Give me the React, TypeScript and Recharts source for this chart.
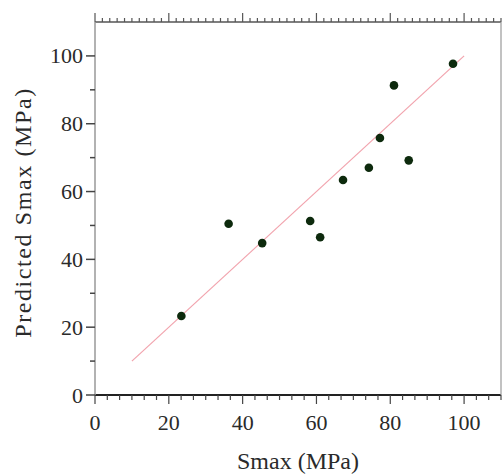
import React from "react";
import { ScatterChart, Scatter, XAxis, YAxis } from "recharts";

// measured vs predicted Smax, MPa
const smaxMeasured = [23.4, 36.2, 45.3, 58.3, 61.0, 67.2, 74.2, 77.2, 81.0, 85.0, 97.0];
const smaxPredicted = [23.3, 50.5, 44.8, 51.3, 46.5, 63.4, 67.0, 75.8, 91.3, 69.2, 97.7];

// y = x reference line
const fitX = [10, 100];
const fitY = [10, 100];

const yMajorTicks = [0, 20, 40, 60, 80, 100];
const yMinorTicks = [10, 30, 50, 70, 90];

const isMajor = (v: number) => Math.abs(v / 20 - Math.round(v / 20)) < 1e-6;
const bottomTicks = Array.from({ length: 34 }, (_, i) => (i * 10) / 3).filter((v) => v <= 110);
const topTicks = Array.from({ length: 56 }, (_, i) => i * 2);

const points = smaxMeasured.map((x, i) => ({ x, y: smaxPredicted[i] }));
const fitLine = fitX.map((x, i) => ({ x, y: fitY[i] }));

const FONT = "'Liberation Serif', 'DejaVu Serif', serif";

function BottomTick(props: any) {
  const { x, y, payload } = props;
  const major = isMajor(payload.value);
  return (
    <g>
      <line x1={x} x2={x} y1={y} y2={y + (major ? 9 : 5)} stroke="#444" strokeWidth={1.2} />
      {major && (
        <text x={x} y={y + 35} textAnchor="middle" fontSize={22} fontFamily={FONT} fill="#2a2a2a">
          {Math.round(payload.value)}
        </text>
      )}
    </g>
  );
}

function TopTick(props: any) {
  const { x, y, payload } = props;
  const major = isMajor(payload.value);
  return <line x1={x} x2={x} y1={y} y2={y - (major ? 9 : 4)} stroke="#555" strokeWidth={1.2} />;
}

function LeftTick(props: any) {
  const { x, y, payload } = props;
  const major = yMajorTicks.includes(payload.value);
  return (
    <g>
      <line x1={x} x2={x - (major ? 9 : 5)} y1={y} y2={y} stroke="#444" strokeWidth={1.5} />
      {major && (
        <text x={x - 12} y={y + 7.5} textAnchor="end" fontSize={22} fontFamily={FONT} fill="#2a2a2a">
          {payload.value}
        </text>
      )}
    </g>
  );
}

const Dot = (props: any) => <circle cx={props.cx} cy={props.cy} r={4.3} fill="#0d2a0d" />;
const NoDot = () => <g />;

export default function App() {
  return (
    <div style={{ position: "absolute", left: 0, top: 0, width: 503, height: 475, background: "#fff" }}>
      <ScatterChart width={503} height={475} margin={{ top: 21, right: 1, bottom: 0, left: 0 }}>
        <XAxis
          xAxisId="top"
          orientation="top"
          type="number"
          dataKey="x"
          domain={[0, 110]}
          allowDataOverflow
          height={1}
          ticks={topTicks}
          interval={0}
          tickSize={0}
          tickMargin={0}
          tickLine={false}
          tick={<TopTick />}
          axisLine={{ stroke: "#555", strokeWidth: 1.5 }}
        />
        <XAxis
          type="number"
          dataKey="x"
          domain={[0, 110]}
          allowDataOverflow
          height={80}
          ticks={bottomTicks}
          interval={0}
          tickSize={0}
          tickMargin={0}
          tickLine={false}
          tick={<BottomTick />}
          axisLine={{ stroke: "#222", strokeWidth: 2 }}
          label={{
            content: ({ viewBox }: any) => (
              <text
                x={viewBox.x + viewBox.width / 2}
                y={viewBox.y + 74}
                textAnchor="middle"
                fontSize={24}
                fontFamily={FONT}
                fill="#2a2a2a"
              >
                Smax (MPa)
              </text>
            ),
          }}
        />
        <YAxis
          type="number"
          dataKey="y"
          domain={[0, 110]}
          allowDataOverflow
          width={95}
          ticks={[...yMajorTicks, ...yMinorTicks]}
          interval={0}
          tickSize={0}
          tickMargin={0}
          tickLine={false}
          tick={<LeftTick />}
          axisLine={{ stroke: "#999", strokeWidth: 1.5 }}
          label={{
            content: ({ viewBox }: any) => {
              const cx = viewBox.x + 23;
              const cy = viewBox.y + viewBox.height / 2 + 4;
              return (
                <text
                  x={cx}
                  y={cy}
                  transform={`rotate(-90 ${cx} ${cy})`}
                  textAnchor="middle"
                  dominantBaseline="central"
                  fontSize={24}
                  letterSpacing={1.6}
                  fontFamily={FONT}
                  fill="#2a2a2a"
                >
                  Predicted Smax (MPa)
                </text>
              );
            },
          }}
        />
        <YAxis
          yAxisId="right"
          orientation="right"
          type="number"
          dataKey="y"
          domain={[0, 110]}
          allowDataOverflow
          width={1}
          tick={false}
          tickLine={false}
          axisLine={{ stroke: "#999", strokeWidth: 1.2 }}
        />
        <Scatter
          data={fitLine}
          xAxisId="top"
          yAxisId="right"
          line={{ stroke: "#f2a3ad", strokeWidth: 1.2 }}
          shape={NoDot}
          isAnimationActive={false}
        />
        <Scatter data={points} shape={Dot} isAnimationActive={false} />
      </ScatterChart>
    </div>
  );
}
